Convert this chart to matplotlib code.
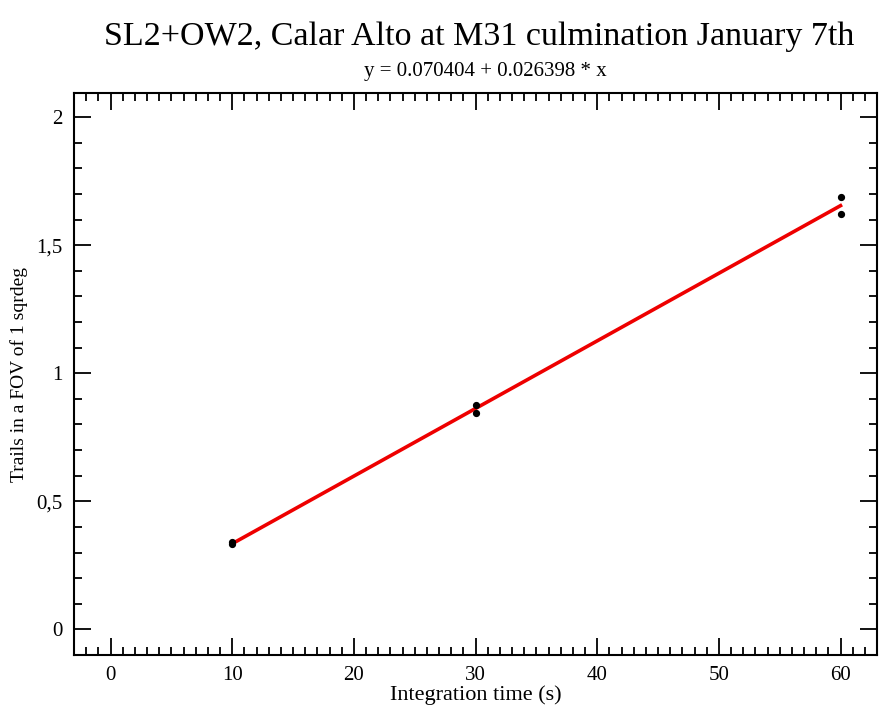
import matplotlib
matplotlib.use("Agg")
import matplotlib.pyplot as plt
from matplotlib.ticker import MultipleLocator, FuncFormatter
import numpy as np

# measured points (integration time, trails per sqrdeg)
t_int = [10, 10, 30, 30, 60, 60]
trails = [0.335, 0.34, 0.875, 0.843, 1.688, 1.622]

# fit coefficients as printed on the chart
a0 = 0.070404
a1 = 0.026398
fit_x = [10, 60]

plt.rcParams['font.family'] = ['Liberation Serif', 'DejaVu Serif']

fig = plt.figure(figsize=(8.8, 7.08), dpi=100)
ax = fig.add_axes([0.0841, 0.0749, 0.9125, 0.7937])

fx = np.array(fit_x, dtype=float)
ax.plot(fx, a0 + a1 * fx, color='#ee0000', lw=2.6, zorder=2)
ax.plot(t_int, trails, 'o', color='black', ms=4.2, zorder=3)

ax.set_xlim(-3, 63)
ax.set_ylim(-0.1, 2.094)

ax.xaxis.set_major_locator(MultipleLocator(10))
ax.xaxis.set_minor_locator(MultipleLocator(1))
ax.yaxis.set_major_locator(MultipleLocator(0.5))
ax.yaxis.set_minor_locator(MultipleLocator(0.1))
ax.yaxis.set_major_formatter(FuncFormatter(lambda v, p: ('%g' % v).replace('.', ',')))

ax.tick_params(which='both', direction='in', top=True, right=True, width=1.3, labelsize=15, colors='black')
ax.tick_params(which='major', length=12, pad=8)
ax.tick_params(which='minor', length=6)
for s in ax.spines.values():
    s.set_linewidth(1.5)

ax.set_xlabel('Integration time (s)', fontsize=16, labelpad=0)
ax.set_ylabel('Trails in a FOV of 1 sqrdeg', fontsize=14, labelpad=6)

fig.text(0.545, 0.948, 'SL2+OW2, Calar Alto at M31 culmination January 7th', ha='center', va='center', fontsize=24.5)
fig.text(0.551, 0.899, 'y = 0.070404 + 0.026398 * x', ha='center', va='center', fontsize=15)

fig.savefig('out.png', dpi=100)
